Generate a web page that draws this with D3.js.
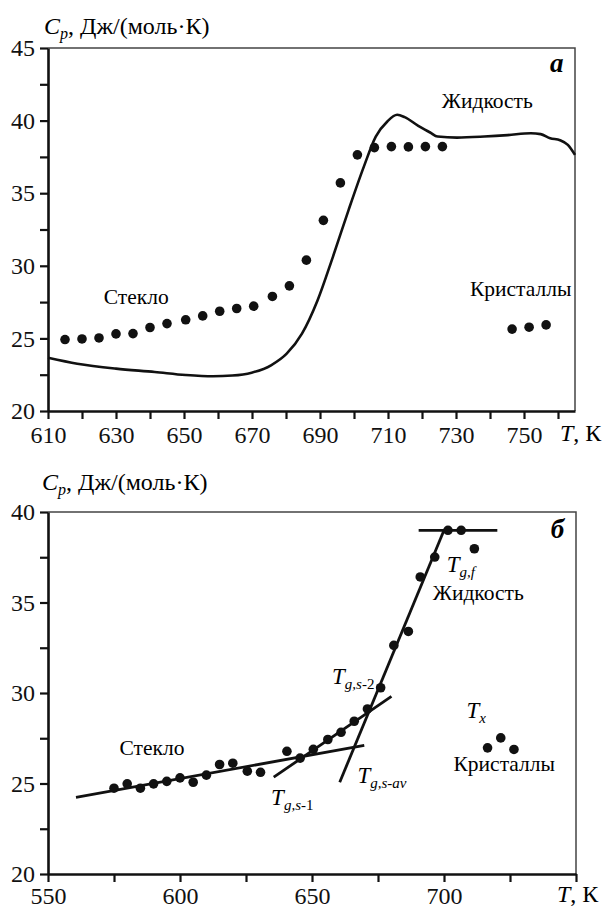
<!DOCTYPE html>
<html>
<head>
<meta charset="utf-8">
<script src="https://cdn.jsdelivr.net/npm/d3@7"></script>
</head>
<body style="margin:0">
<div id="chart"></div>
<script>
// ---- panel a: heat capacity vs temperature
const aTicksX = [610, 620, 630, 640, 650, 660, 670, 680, 690, 700, 710, 720, 730, 740, 750, 760];
const aLabelsX = [610, 630, 650, 670, 690, 710, 730, 750];
const aTicksY = [20, 22.5, 25, 27.5, 30, 32.5, 35, 37.5, 40, 42.5, 45];
const aLabelsY = [20, 25, 30, 35, 40, 45];

const aDotT = [615, 620, 625, 630, 635, 640, 645, 650.5, 655.5, 660.5, 665.5, 670.5, 676, 681, 686, 691, 696, 701, 706, 711, 716, 721, 726];
const aDotCp = [24.92, 24.96, 25.03, 25.31, 25.33, 25.75, 26.02, 26.28, 26.55, 26.87, 27.06, 27.22, 27.89, 28.62, 30.39, 33.13, 35.71, 37.64, 38.14, 38.21, 38.19, 38.21, 38.21];
const aCrystT = [746.5, 751.5, 756.5];
const aCrystCp = [25.64, 25.77, 25.93];

// DSC curve
const aCurveT = [610, 618.6, 630, 641.4, 650.5, 658.5, 664.2, 669.9, 675.6, 680.2, 684.7, 689.3, 693.8, 698.4, 702.9, 706.4, 709.8, 712.7, 714.9, 718.9, 722.4, 724.6, 730.3, 738.3, 745.2, 752, 754.9, 757.7, 760.6, 762.9, 765];
const aCurveCp = [23.67, 23.26, 22.92, 22.69, 22.48, 22.39, 22.44, 22.64, 23.15, 23.95, 25.33, 27.63, 30.62, 33.84, 36.83, 38.9, 39.94, 40.4, 40.24, 39.64, 39.18, 38.9, 38.83, 38.9, 39.0, 39.13, 39.07, 38.79, 38.65, 38.33, 37.64];

// ---- panel b
const bTicksX = [550, 575, 600, 625, 650, 675, 700, 725, 750];
const bLabelsX = [550, 600, 650, 700];
const bTicksY = [20, 22.5, 25, 27.5, 30, 32.5, 35, 37.5, 40];
const bLabelsY = [20, 25, 30, 35, 40];

const bDotT = [575, 580, 585, 590, 595, 600, 605, 610, 615, 620, 625.5, 630.5, 640.5, 645.5, 650.5, 656, 661, 666, 671, 676, 681, 686.5, 691, 696.5, 701.5, 706.5, 711.5];
const bDotCp = [24.74, 24.98, 24.74, 24.98, 25.12, 25.31, 25.07, 25.46, 26.05, 26.12, 25.68, 25.62, 26.78, 26.4, 26.89, 27.43, 27.83, 28.44, 29.12, 30.29, 32.63, 33.4, 36.41, 37.51, 38.99, 38.99, 37.97];
const bCrystT = [716.5, 721.5, 726.5];
const bCrystCp = [26.97, 27.52, 26.88];

// fitted straight lines, [T, Cp] end points
const bFitGlass = [[560.6, 24.24], [669.8, 27.1]];
const bFitLow = [[635.5, 25.35], [680.1, 29.81]];
const bFitSteep = [[660.5, 25.07], [700, 38.99]];
const bFitLiquid = [[690.4, 38.99], [720.2, 38.99]];

const width = 609, height = 909;
const face = '"Liberation Serif"';

const svg = d3.select("#chart").append("svg")
  .attr("width", width)
  .attr("height", height);

svg.append("rect").attr("width", width).attr("height", height).attr("fill", "#fff");

// every text gets the serif face right when it is made
function txt(parent, x, y, size) {
  return parent.append("text")
    .attr("x", x).attr("y", y)
    .attr("font-size", size)
    .style("font-family", face);
}

function yTitle(g, x, y) {
  const t = txt(g, x, y, 24);
  t.append("tspan").attr("font-style", "italic").text("C");
  t.append("tspan").attr("font-style", "italic").attr("font-size", 16).attr("dy", 5).text("p");
  t.append("tspan").attr("dy", -5).text(", Дж/(моль·К)");
}

function tLabel(g, x, y, sub, subTail) {
  const size = 23;
  const t = txt(g, x, y, size);
  t.append("tspan").attr("font-style", "italic").text("T");
  t.append("tspan").attr("font-style", "italic").attr("font-size", 15).attr("dy", 5).text(sub);
  if (subTail) t.append("tspan").attr("font-size", 15).text(subTail);
}

function unitLabel(g, x, y) {
  const t = txt(g, x, y, 24);
  t.append("tspan").attr("font-style", "italic").text("T");
  t.append("tspan").text(", К");
}

function frame(g, x, y) {
  const [x0, x1] = x.range();
  const [y0, y1] = y.range();
  g.append("path")
    .attr("d", `M${x0},${y1}H${x1}V${y0}`)
    .attr("fill", "none")
    .attr("stroke", "#444")
    .attr("stroke-width", 1.5);
}

function axes(g, x, y, ticksX, labelsX, ticksY, labelsY, padX) {
  const ax = g.append("g")
    .attr("transform", `translate(0,${y.range()[0]})`)
    .call(d3.axisBottom(x).tickValues(ticksX).tickSize(8).tickSizeOuter(0).tickPadding(padX)
      .tickFormat(d => labelsX.includes(d) ? d : ""));
  const ay = g.append("g")
    .attr("transform", `translate(${x.range()[0]},0)`)
    .call(d3.axisLeft(y).tickValues(ticksY).tickSize(8).tickSizeOuter(0).tickPadding(5)
      .tickFormat(d => labelsY.includes(d) ? d : ""));
  [ax, ay].forEach(a => {
    a.attr("font-family", null).attr("font-size", null);
    a.select(".domain").attr("stroke-width", 2.6).attr("stroke", "#111");
    a.selectAll(".tick line").attr("stroke-width", 2.2).attr("stroke", "#111");
    a.selectAll(".tick text")
      .attr("fill", "#111")
      .attr("font-size", 24)
      .style("font-family", face);
  });
}

function dots(g, x, y, ts, cps) {
  g.append("g").selectAll("circle")
    .data(ts.map((t, i) => [t, cps[i]]))
    .join("circle")
    .attr("cx", d => x(d[0]))
    .attr("cy", d => y(d[1]))
    .attr("r", 4.8)
    .attr("fill", "#111");
}

// ===== panel a =====
{
  const x = d3.scaleLinear().domain([610, 765]).range([48, 575]);
  const y = d3.scaleLinear().domain([20, 45]).range([411, 48]);
  const g = svg.append("g");

  frame(g, x, y);

  g.append("path")
    .datum(aCurveT.map((t, i) => [t, aCurveCp[i]]))
    .attr("fill", "none")
    .attr("stroke", "#111")
    .attr("stroke-width", 2.6)
    .attr("d", d3.line().x(d => x(d[0])).y(d => y(d[1])).curve(d3.curveMonotoneX));

  dots(g, x, y, aDotT, aDotCp);
  dots(g, x, y, aCrystT, aCrystCp);

  axes(g, x, y, aTicksX, aLabelsX, aTicksY, aLabelsY, 7);

  yTitle(g, 44, 34);
  unitLabel(g, 560, 441);

  txt(g, x(761.6), y(43.35), 27).attr("text-anchor", "end")
    .attr("font-weight", "bold").attr("font-style", "italic").text("а");

  txt(g, x(725.8), y(40.87), 21.5).text("Жидкость");
  txt(g, x(734.1), y(27.92), 21.5).text("Кристаллы");
  txt(g, x(626.4), y(27.37), 21.5).text("Стекло");
}

// ===== panel b =====
{
  const x = d3.scaleLinear().domain([550, 750]).range([48, 576]);
  const y = d3.scaleLinear().domain([20, 40]).range([874, 512]);
  const g = svg.append("g");

  frame(g, x, y);

  const line = d3.line().x(d => x(d[0])).y(d => y(d[1]));
  [bFitGlass, bFitLow, bFitSteep, bFitLiquid].forEach(seg => {
    g.append("path").datum(seg)
      .attr("fill", "none")
      .attr("stroke", "#111")
      .attr("stroke-width", 2.8)
      .attr("d", line);
  });

  dots(g, x, y, bDotT, bDotCp);
  dots(g, x, y, bCrystT, bCrystCp);

  axes(g, x, y, bTicksX, bLabelsX, bTicksY, bLabelsY, 5);

  yTitle(g, 42, 490);
  unitLabel(g, 557, 902);

  txt(g, x(745.5), y(38.56), 27).attr("text-anchor", "end")
    .attr("font-weight", "bold").attr("font-style", "italic").text("б");

  tLabel(g, x(701), y(36.7), "g,f");
  txt(g, x(695.7), y(35.14), 21.5).text("Жидкость");
  tLabel(g, x(657.6), y(30.5), "g,s", "-2");
  tLabel(g, x(708.5), y(28.6), "x");
  txt(g, x(703.6), y(25.7), 21.5).text("Кристаллы");
  txt(g, x(577.1), y(26.57), 21.5).text("Стекло");
  tLabel(g, x(634.5), y(23.8), "g,s", "-1");
  tLabel(g, x(667.2), y(25.03), "g,s-av");
}
</script>
</body>
</html>
